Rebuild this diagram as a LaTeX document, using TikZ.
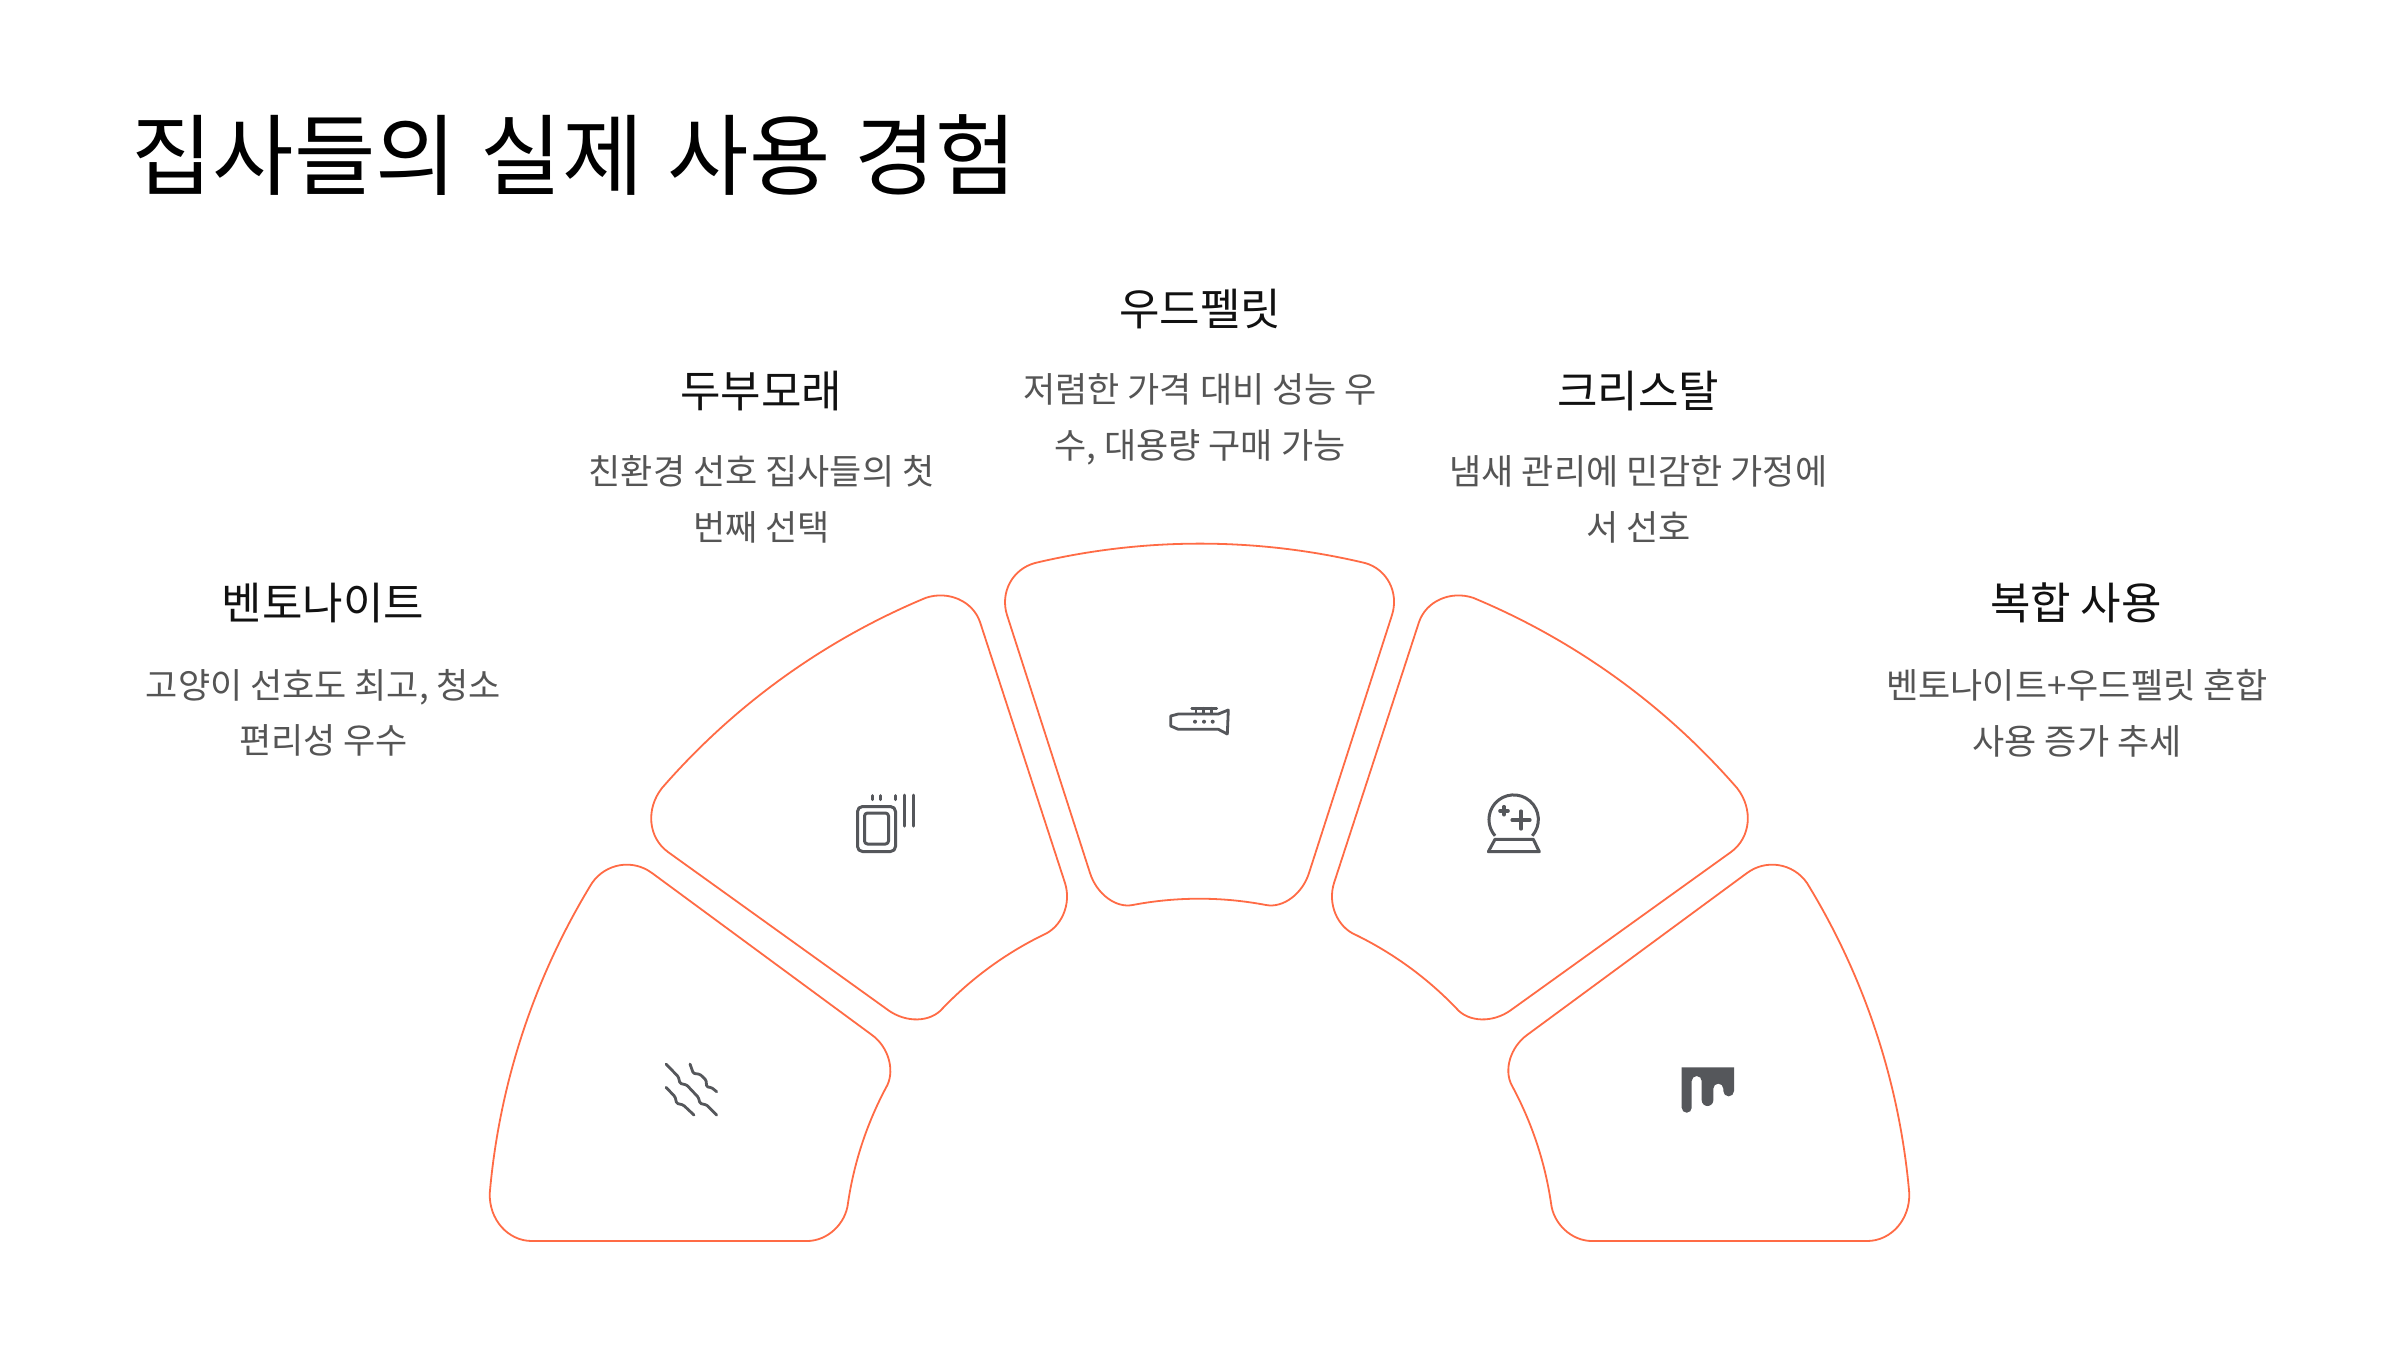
\documentclass[tikz,border=0pt]{standalone}
\usepackage{fontspec}
\setmainfont{Noto Sans CJK KR}
\usetikzlibrary{calc}
\definecolor{wedgeline}{HTML}{FF6B45}
\definecolor{icongray}{HTML}{55575B}
\definecolor{headink}{HTML}{111111}
\definecolor{bodyink}{HTML}{555555}
\tikzset{
  wedge/.style={draw=wedgeline,line width=1.8pt,line join=round},
  cnr/.style={to path={.. controls ($(\tikztostart)!.55!(#1)$) and ($(\tikztotarget)!.55!(#1)$) .. (\tikztotarget)}},
  icon/.style={draw=icongray,line width=3pt,line cap=round,line join=round},
  thinicon/.style={icon,line width=2.8pt},
  titletext/.style={inner sep=0pt,anchor=west,text=black,font=\fontsize{88.5}{100}\selectfont},
  headtext/.style={inner sep=0pt,text=headink,font=\fontsize{44}{50}\selectfont},
  bodytext/.style={inner sep=0pt,align=center,text=bodyink,font=\fontsize{35}{55.5}\selectfont},
}
\begin{document}
\begin{tikzpicture}[x=1pt,y=-1pt]
\useasboundingbox (0,0) rectangle (2400,1358);
\fill[white] (0,0) rectangle (2400,1358);
\node[titletext] (title) at (131,155) {집사들의\hspace{24pt}실제\hspace{24pt}사용\hspace{24pt}경험};
% wedges
\draw[wedge] (592,883) arc[start angle=148.5,end angle=175,radius=712pt] to[cnr={488,1241}] (532,1241) -- (807,1241) to[cnr={844,1241}] (848,1203) arc[start angle=171.6,end angle=151.5,radius=356pt] to[cnr={901,1056}] (872,1035) -- (652,873) to[cnr={617,847}] (592,883) -- cycle;
\draw[wedge] (662,788) arc[start angle=139,end angle=112.6,radius=712pt] to[cnr={967,584}] (980,622) -- (1065,883) to[cnr={1077,921}] (1043,935) arc[start angle=116.1,end angle=136.2,radius=356pt] to[cnr={921,1034}] (888,1010) -- (668,852) to[cnr={632,826}] (662,788) -- cycle;
\draw[wedge] (1035,563) arc[start angle=103.4,end angle=76.6,radius=712pt] to[cnr={1405,574}] (1392,615) -- (1309,873) to[cnr={1297,911}] (1266,905) arc[start angle=79.2,end angle=100.8,radius=356pt] to[cnr={1102,911}] (1090,873) -- (1007,615) to[cnr={994,574}] (1035,563) -- cycle;
\draw[wedge] (1737,788) arc[start angle=41,end angle=67.4,radius=712pt] to[cnr={1432,584}] (1419,622) -- (1334,883) to[cnr={1322,921}] (1356,935) arc[start angle=63.9,end angle=43.8,radius=356pt] to[cnr={1478,1034}] (1511,1010) -- (1731,852) to[cnr={1767,826}] (1737,788) -- cycle;
\draw[wedge] (1807,883) arc[start angle=31.5,end angle=5,radius=712pt] to[cnr={1911,1241}] (1867,1241) -- (1592,1241) to[cnr={1555,1241}] (1551,1203) arc[start angle=8.4,end angle=28.5,radius=356pt] to[cnr={1497,1057}] (1527,1035) -- (1747,873) to[cnr={1782,847}] (1807,883) -- cycle;
% icon 1: waves
\begin{scope}[thinicon,rounded corners=1.2pt]
\draw (666,1064) -- (678.3,1076.7) -- (680,1083.3) -- (686.7,1085) -- (698.3,1097.3) -- (700,1103.3) -- (706.7,1105) -- (716.7,1115);
\draw (690,1064) -- (693.3,1073.3) -- (700,1074.3) -- (706,1080) -- (706.7,1086.7) -- (711.7,1087.7) -- (716.7,1091.7);
\draw (666,1087.3) -- (675,1096.7) -- (676.7,1103.3) -- (683.3,1105) -- (694,1115);
\end{scope}
% icon 2: tofu
\draw[icon,rounded corners=5pt] (857.5,806.5) rectangle (895.5,851.5);
\draw[icon,rounded corners=3pt] (864.5,813) rectangle (888.5,844);
\draw[icon] (872.7,795.5) -- (872.7,799.5);
\draw[icon] (880,795.5) -- (880,799.5);
\draw[icon] (895,795.5) -- (895,799.5);
\draw[icon] (904,795) -- (904,826);
\draw[icon] (913.3,795) -- (913.3,826);
% icon 3: pellet
\draw[thinicon] (1178.3,714) -- (1170.7,716) -- (1170.7,726) -- (1178.3,729.3) -- (1218.3,729.3) -- (1227.3,734) -- (1228.3,710) -- (1218.3,714) -- cycle;
\draw[thinicon] (1191.7,708.3) -- (1216.7,708.3);
\draw[thinicon] (1196,708.3) -- (1196,713.5) (1203.5,708.3) -- (1203.5,713.5) (1211.7,708.3) -- (1211.7,713.5);
\fill[icongray] (1195,721.7) circle[radius=2pt] (1204,721.7) circle[radius=2pt] (1212.7,721.7) circle[radius=2pt];
% icon 4: crystal ball
\draw[icon,line cap=butt] (1532.3,835.8) arc[start angle=-41,end angle=221,radius=24.7pt];
\draw[icon,line width=3.2pt] (1512,820) -- (1530,820) (1521,811) -- (1521,829);
\draw[icon,line width=3.6pt] (1500,810.7) -- (1508,810.7) (1504,806.7) -- (1504,814.7);
\draw[icon] (1495,839.3) -- (1533.3,839.3) -- (1539.3,851.7) -- (1488.3,851.7) -- cycle;
% icon 5: drips
\fill[icongray] (1681.7,1067.3) -- (1734,1067.3) -- (1734,1091) arc[start angle=0,end angle=-180,radius=5.35pt] -- (1723.3,1088.6) arc[start angle=0,end angle=180,radius=5pt] -- (1713.3,1100.2) arc[start angle=0,end angle=-180,radius=5.8pt] -- (1701.7,1081) arc[start angle=0,end angle=180,radius=5pt] -- (1691.7,1107.7) arc[start angle=0,end angle=-180,radius=5pt] -- cycle;
% texts
\node[headtext] (h1) at (323,603) {벤토나이트};
\node[bodytext] (b1) at (323.5,713) {고양이 선호도 최고, 청소\\편리성 우수};
\node[headtext] (h2) at (761,391) {두부모래};
\node[bodytext] (b2) at (761.5,499.5) {친환경 선호 집사들의 첫\\번째 선택};
\node[headtext] (h3) at (1200,309) {우드펠릿};
\node[bodytext] (b3) at (1200,419.5) {저렴한 가격 대비 성능 우\\수, 대용량 구매 가능};
\node[headtext] (h4) at (1638,391) {크리스탈};
\node[bodytext] (b4) at (1638.5,499.5) {냄새 관리에 민감한 가정에\\서 선호};
\node[headtext] (h5) at (2076,603) {복합 사용};
\node[bodytext] (b5) at (2077,713) {벤토나이트+우드펠릿 혼합\\사용 증가 추세};
\end{tikzpicture}
\end{document}
